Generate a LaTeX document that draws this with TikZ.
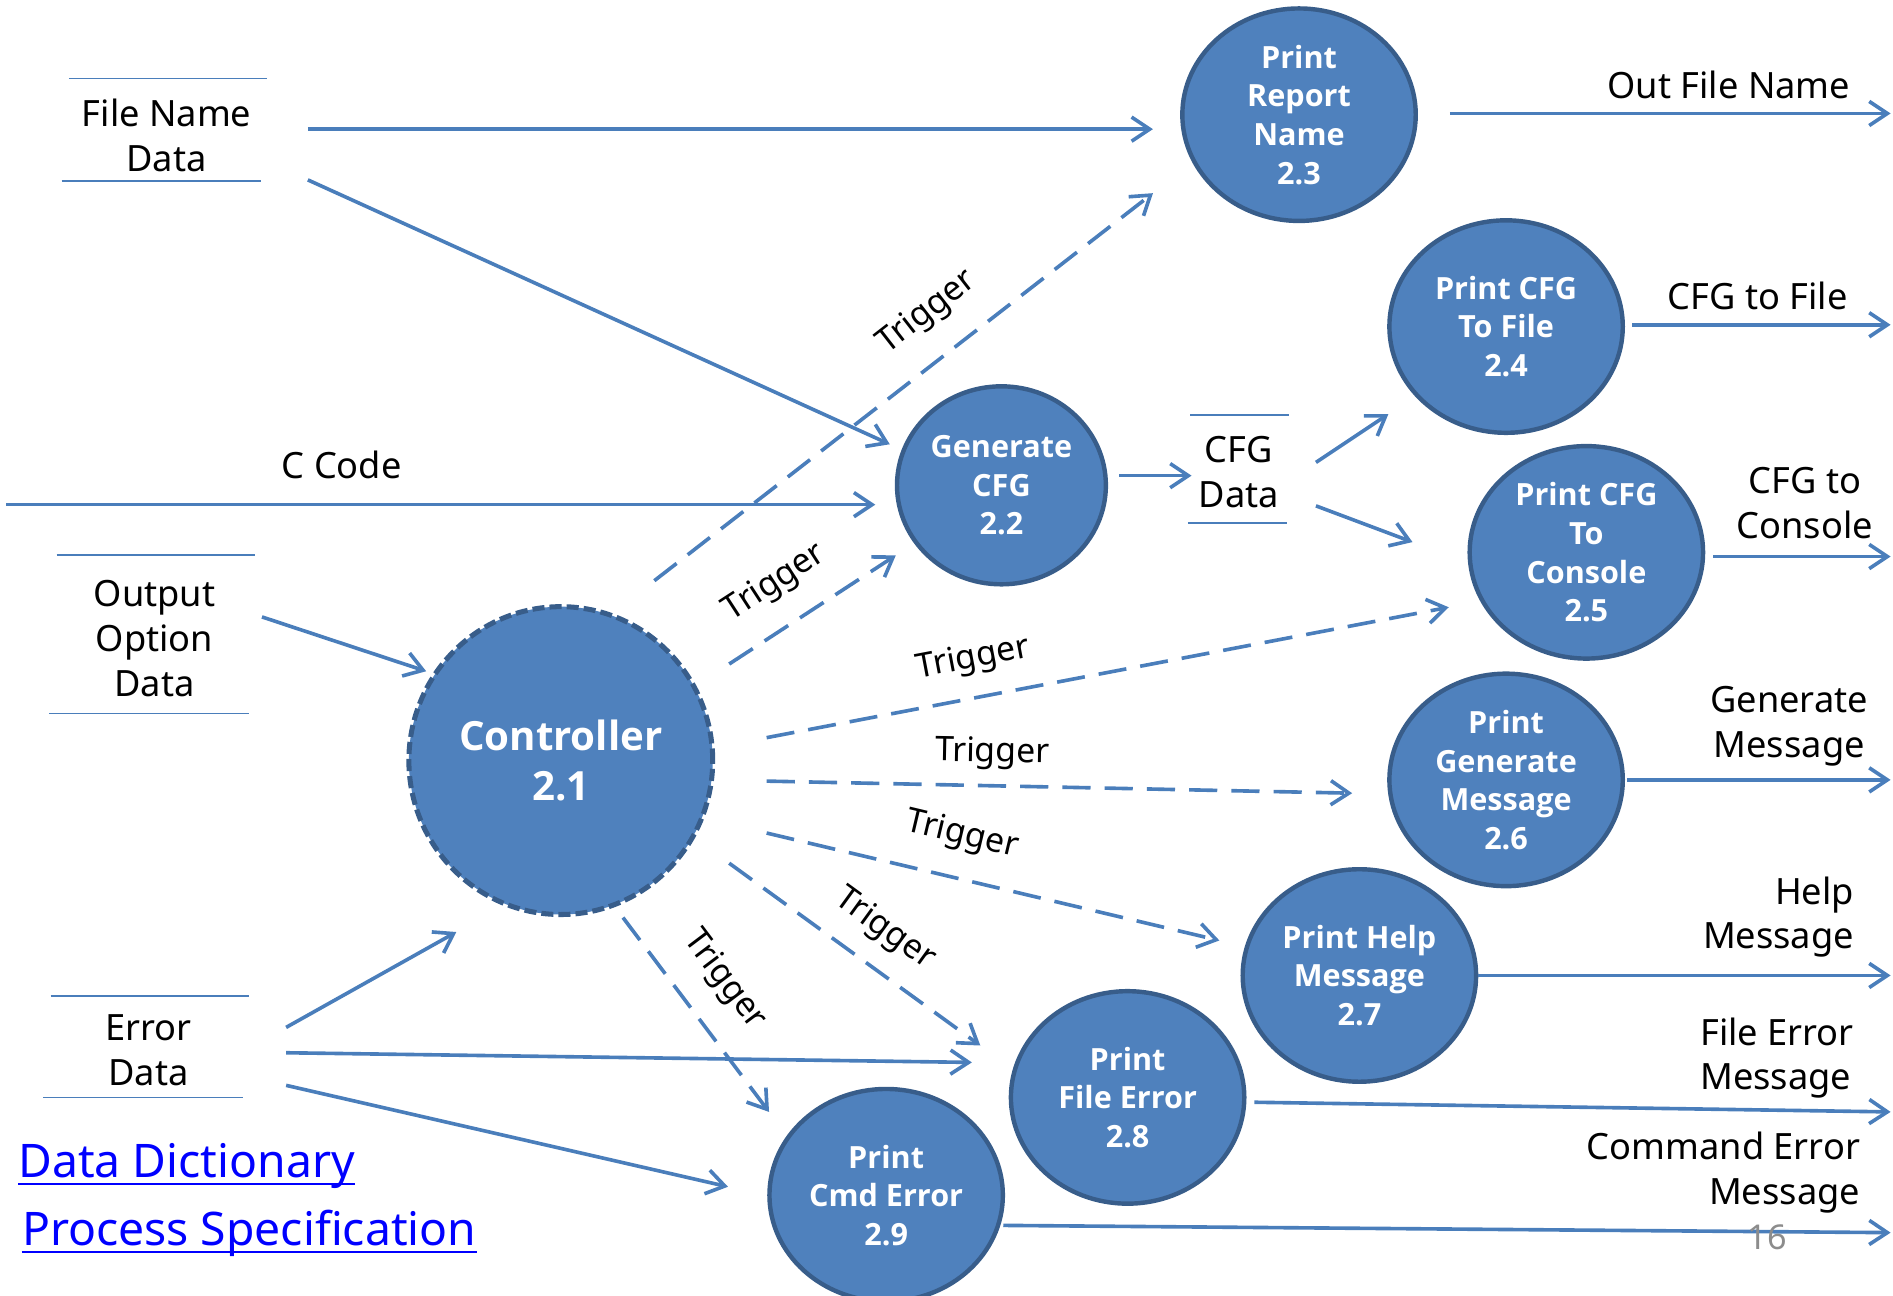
\documentclass[tikz,border=0pt]{standalone}
\usepackage{fontspec}
\setmainfont{Noto Sans}
\newfontfamily\procfont{Open Sans}
\usetikzlibrary{arrows.meta,shapes.geometric,calc}
\definecolor{fillblue}{HTML}{4F81BD}
\definecolor{edgeblue}{HTML}{385D8A}
\definecolor{lineblue}{HTML}{4A7EBB}
\definecolor{linkblue}{HTML}{0000FF}
\definecolor{pagegray}{HTML}{8C8C8C}
\begin{document}
\begin{tikzpicture}[x=0.6pt,y=-0.6pt,
  proc/.style={ellipse, fill=fillblue, draw=edgeblue, line width=2.2pt, text=white,
    font=\procfont\bfseries\fontsize{15.2}{19.2}\selectfont, align=center, inner sep=0pt,
    minimum width=116pt, minimum height=105.6pt},
  ctlproc/.style={proc, line width=2.5pt, dash pattern=on 6pt off 2.5pt, minimum width=151pt, minimum height=153pt,
    font=\procfont\bfseries\fontsize{20}{24.6}\selectfont},
  flow/.style={lineblue, line width=1.8pt, -{Straight Barb[length=9pt,width=12pt]}},
  trig/.style={flow, dash pattern=on 14pt off 7pt},
  store/.style={font=\fontsize{18}{22.2}\selectfont, align=center, inner sep=0pt},
  storeline/.style={lineblue, line width=0.9pt},
  lbl/.style={font=\fontsize{18}{22.2}\selectfont, inner sep=0pt},
  trlbl/.style={font=\fontsize{16.8}{20}\selectfont, inner sep=0pt},
  linktext/.style={font=\fontsize{23}{28}\selectfont, text=linkblue, inner sep=0pt, anchor=west}
]
\useasboundingbox (0,0) rectangle (1568,1073);

% data stores
\node[store] (fnd) at (138,112) {File Name\\Data};
\node[store] (ood) at (128,529) {Output\\Option\\Data};
\node[store] (erd) at (123,870) {Error\\Data};
\node[store] (cfgd) at (1026,391) {CFG\\Data};
\draw[storeline] ($(fnd)+(-81,-47)$) -- ($(fnd)+(83,-47)$);
\draw[storeline] ($(fnd)+(-87,38)$) -- ($(fnd)+(78,38)$);
\draw[storeline] ($(ood)+(-81,-69)$) -- ($(ood)+(83,-69)$);
\draw[storeline] ($(ood)+(-87,62)$) -- ($(ood)+(78,62)$);
\draw[storeline] ($(erd)+(-81,-45)$) -- ($(erd)+(83,-45)$);
\draw[storeline] ($(erd)+(-87,39)$) -- ($(erd)+(78,39)$);
\draw[storeline] ($(cfgd)+(-40,-47)$) -- ($(cfgd)+(42,-47)$);
\draw[storeline] ($(cfgd)+(-42,42)$) -- ($(cfgd)+(40,42)$);

% processes
\node[ctlproc] (ctl) at (464.5,630) {Controller\\2.1};
\node[proc] (p23) at (1076,95) {Print\\Report\\Name\\2.3};
\node[proc] (p24) at (1247.5,270.5) {Print CFG\\To File\\2.4};
\node[proc, minimum width=103.8pt, minimum height=98.4pt] (gen) at (829.5,402) {Generate\\CFG\\2.2};
\node[proc] (p25) at (1314,457.5) {Print CFG\\To\\Console\\2.5};
\node[proc] (p26) at (1247.5,646) {Print\\Generate\\Message\\2.6};
\node[proc] (p27) at (1126,808) {Print Help\\Message\\2.7};
\node[proc] (p28) at (934,909) {Print\\File Error\\2.8};
\node[proc] (p29) at (734,990) {Print\\Cmd Error\\2.9};

% free ends
\coordinate (ccin) at (5,418);
\coordinate (o23) at (1566,94);
\coordinate (o24) at (1566,269);
\coordinate (o25) at (1566,461);
\coordinate (o26) at (1566,646);
\coordinate (o27) at (1566,808);
\coordinate (o28) at (1566,921);
\coordinate (o29) at (1566,1021);

% solid flows
\draw[flow] ($(fnd)+(117,-5)$) -- ($(p23)+(-121,12)$);
\draw[flow] ($(fnd)+(117,37)$) -- ($(gen)+(-92.5,-34)$);
\draw[flow] (ccin) -- ($(gen)+(-104.5,16)$);
\draw[flow] ($(ood)+(89,-18)$) -- ($(ctl)+(-111.5,-74)$);
\draw[flow] ($(erd)+(114,-19)$) -- ($(ctl)+(-86.5,142)$);
\draw[flow] ($(erd)+(114,2)$) -- ($(p28)+(-129,-29)$);
\draw[flow] ($(erd)+(114,29)$) -- ($(p29)+(-131,-7)$);
\draw[flow] ($(gen)+(97.5,-8)$) -- ($(cfgd)+(-39,3)$);
\draw[flow] ($(cfgd)+(64,-8)$) -- ($(p24)+(-97.5,72.5)$);
\draw[flow] ($(cfgd)+(64,28)$) -- ($(p25)+(-144,-8.5)$);
\draw[flow] ($(p23)+(125,-1)$) -- (o23);
\draw[flow] ($(p24)+(104.5,-1.5)$) -- (o24);
\draw[flow] ($(p25)+(105,3.5)$) -- (o25);
\draw[flow] ($(p26)+(100.5,0)$) -- (o26);
\draw[flow] ($(p27)+(98,0)$) -- (o27);
\draw[flow] ($(p28)+(105,4)$) -- (o28);
\draw[flow] ($(p29)+(97,25)$) -- (o29);

% trigger flows
\draw[trig] ($(ctl)+(77.5,-149)$) -- ($(p23)+(-121,65)$);
\draw[trig] ($(ctl)+(139.5,-80)$) -- ($(gen)+(-87.5,58)$);
\draw[trig] ($(ctl)+(170.5,-19)$) -- ($(p25)+(-114,45.5)$);
\draw[trig] ($(ctl)+(170.5,17)$) -- ($(p26)+(-127.5,11)$);
\draw[trig] ($(ctl)+(170.5,60)$) -- ($(p27)+(-116,-29)$);
\draw[trig] ($(ctl)+(139.5,85)$) -- ($(p28)+(-122,-43)$);
\draw[trig] ($(ctl)+(51.5,130)$) -- ($(p29)+(-97,-69)$);

% trigger labels
\node[trlbl, rotate=37.9] (ta) at (768,259) {Trigger};
\node[trlbl, rotate=33] (tb) at (642,483) {Trigger};
\node[trlbl, rotate=10.8] (tc) at (806,546) {Trigger};
\node[trlbl, rotate=-1] (td) at (822,624) {Trigger};
\node[trlbl, rotate=-13.4] (te) at (797,692) {Trigger};
\node[trlbl, rotate=-36] (tf) at (733,770) {Trigger};
\node[trlbl, rotate=-53] (tg) at (600,812) {Trigger};

% flow labels
\node[lbl] (lcc) at (283,385) {C Code};
\node[lbl] (l23) at (1432,70) {Out File Name};
\node[lbl] (l24) at (1456,245) {CFG to File};
\node[lbl, align=center] (l25) at (1495,416.5) {CFG to\\Console};
\node[lbl, align=center] (l26) at (1482,601.5) {Generate\\Message};
\node[lbl, align=right, anchor=east] (l27) at (1536,759.5) {Help\\Message};
\node[lbl, align=left, anchor=west] (l28) at (1408,876.5) {File Error\\Message};
\node[lbl, align=right, anchor=east] (l29) at (1541,971.5) {Command Error\\Message};

% links and page number
\node[linktext] (dd) at (15,966) {Data Dictionary};
\node[linktext] (ps) at (18,1022) {Process Specification};
\draw[linkblue, line width=1.1pt] ([yshift=-3pt]dd.base west) -- ([yshift=-3pt]dd.base east);
\draw[linkblue, line width=1.1pt] ([yshift=-3pt]ps.base west) -- ([yshift=-3pt]ps.base east);
\node[font=\fontsize{17}{20}\selectfont, text=pagegray, inner sep=0pt] (pg) at (1464,1025) {16};
\end{tikzpicture}
\end{document}
